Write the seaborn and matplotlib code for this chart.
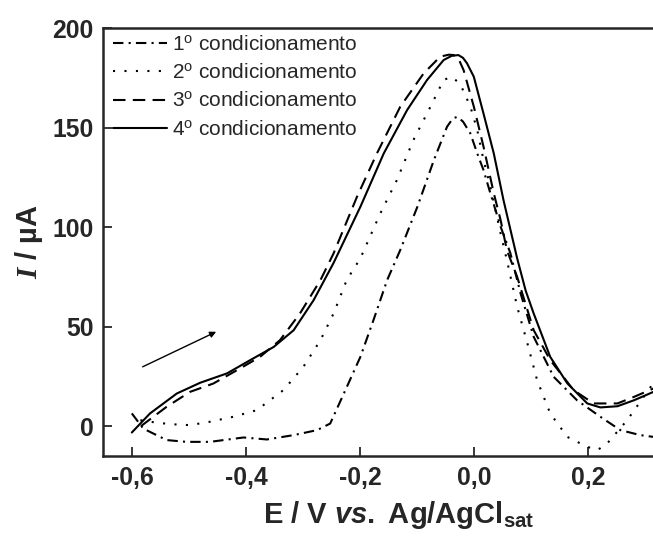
import matplotlib
matplotlib.use("Agg")
import matplotlib.pyplot as plt
import pandas as pd
import seaborn as sns

# 1st conditioning (dash-dot)
e1 = [-0.601, -0.581, -0.54, -0.505, -0.464, -0.405, -0.364, -0.317, -0.276, -0.253,
      -0.229, -0.2, -0.177, -0.153, -0.13, -0.1, -0.071, -0.048, -0.038, -0.03,
      -0.02, -0.007, 0.005, 0.016, 0.028, 0.046, 0.063, 0.081, 0.104, 0.139,
      0.18, 0.221, 0.256, 0.291, 0.314]
i1 = [6.4, -1.2, -7.0, -7.9, -7.9, -5.7, -6.7, -4.5, -2.0, 1.3,
      16.4, 34.8, 53.3, 73.4, 88.5, 110.2, 133.7, 150.4, 154.5, 155.4,
      153.0, 147.0, 137.0, 128.6, 117.0, 100.2, 87.0, 66.7, 44.9, 24.8,
      13.0, 4.7, -2.0, -4.5, -5.4]

# 2nd conditioning (dotted)
e2 = [-0.586, -0.569, -0.534, -0.499, -0.464, -0.423, -0.382, -0.335, -0.3, -0.27,
      -0.247, -0.224, -0.2, -0.165, -0.136, -0.107, -0.077, -0.054, -0.04, -0.025,
      -0.007, 0.005, 0.016, 0.028, 0.046, 0.057, 0.075, 0.093, 0.11, 0.133,
      0.163, 0.198, 0.216, 0.233, 0.268, 0.297, 0.314]
i2 = [3.0, 2.2, 1.0, 0.5, 2.2, 4.7, 8.0, 18.1, 29.8, 43.2,
      56.6, 73.4, 84.3, 106.9, 123.6, 143.7, 160.5, 173.9, 175.5, 172.0,
      160.5, 148.7, 133.7, 120.3, 96.8, 83.4, 60.0, 41.6, 23.1, 6.4,
      -5.4, -10.4, -12.0, -8.7, 3.0, 14.7, 21.6]

# 3rd conditioning (dashed)
e3 = [-0.585, -0.54, -0.499, -0.458, -0.411, -0.376, -0.341, -0.306, -0.27, -0.247,
      -0.206, -0.171, -0.13, -0.089, -0.06, -0.045, -0.036, -0.027, -0.019, -0.001,
      0.016, 0.034, 0.046, 0.057, 0.075, 0.104, 0.133, 0.174, 0.209, 0.251,
      0.28, 0.314]
i3 = [0.0, 9.7, 17.2, 21.4, 29.0, 34.8, 43.2, 56.6, 73.4, 86.8,
      115.2, 137.0, 160.5, 177.2, 185.6, 186.6, 186.4, 184.0, 178.9, 160.5,
      140.4, 117.0, 103.5, 88.4, 75.0, 48.2, 33.2, 18.1, 11.4, 11.4,
      14.7, 18.9]

# 4th conditioning (solid)
e4 = [-0.601, -0.569, -0.522, -0.481, -0.434, -0.393, -0.352, -0.317, -0.282, -0.247,
      -0.2, -0.159, -0.118, -0.083, -0.054, -0.04, -0.028, -0.02, -0.013, -0.001,
      0.016, 0.034, 0.051, 0.075, 0.09, 0.104, 0.133, 0.163, 0.198, 0.221,
      0.251, 0.28, 0.314]
i4 = [-3.2, 6.4, 16.4, 21.8, 26.5, 33.2, 39.8, 48.2, 63.3, 82.0,
      110.2, 137.0, 158.8, 173.9, 183.9, 186.0, 186.4, 185.0, 182.3, 175.5,
      157.0, 137.0, 113.6, 84.3, 68.0, 56.6, 34.8, 21.5, 11.4, 9.4,
      10.0, 13.0, 17.2]

labels = ["1$^{\\mathsf{o}}$ condicionamento", "2$^{\\mathsf{o}}$ condicionamento",
          "3$^{\\mathsf{o}}$ condicionamento", "4$^{\\mathsf{o}}$ condicionamento"]

sns.set_style("ticks")
plt.rcParams["font.family"] = ["Liberation Sans", "DejaVu Sans"]
plt.rcParams["mathtext.fontset"] = "custom"
plt.rcParams["mathtext.rm"] = "Liberation Sans:bold"
plt.rcParams["mathtext.it"] = "Liberation Sans:italic:bold"
plt.rcParams["mathtext.bf"] = "Liberation Serif:italic:bold"
plt.rcParams["mathtext.sf"] = "Liberation Sans"

fig = plt.figure(figsize=(6.53, 5.39), dpi=100)
ax = fig.add_axes([103.3 / 653, 83 / 539, 591.7 / 653, 428 / 539])

styles = [(0, (5, 2.5, 1, 2.5)), (0, (1, 4.5)), (0, (6, 3.5)), "-"]
for e, i, lab, ls in zip([e1, e2, e3, e4], [i1, i2, i3, i4], labels, styles):
    df = pd.DataFrame({"E": e, "I": i})
    sns.lineplot(data=df, x="E", y="I", sort=False, estimator=None, ax=ax,
                 color="black", lw=1.5, linestyle=ls, label=lab)

# scan direction arrow
ax.annotate("", xy=(-0.453, 47.4), xytext=(-0.582, 29.8),
            arrowprops=dict(arrowstyle="-|>", color="black", lw=1.0,
                            mutation_scale=9, shrinkA=0, shrinkB=0))

ax.set_xlim(-0.651, 0.387)
ax.set_ylim(-15, 200)
ax.set_xticks([-0.6, -0.4, -0.2, 0.0, 0.2])
ax.set_xticklabels(["-0,6", "-0,4", "-0,2", "0,0", "0,2"])
ax.set_yticks([0, 50, 100, 150, 200])
ax.tick_params(direction="in", length=6.5, width=1.3, labelsize=17.8, pad=7)
for lbl in ax.get_xticklabels() + ax.get_yticklabels():
    lbl.set_fontweight("bold")
for sp in ax.spines.values():
    sp.set_linewidth(1.8)
ax.spines["right"].set_visible(False)

ax.set_xlabel("E / V $\\mathit{vs.}$ Ag/AgCl$_{\\mathrm{sat}}$", fontsize=21,
              fontweight="bold", labelpad=7)
ax.set_ylabel("$\\mathbf{I}$ / µA", fontsize=21, fontweight="bold", labelpad=5)

ax.legend(loc="upper left", bbox_to_anchor=(0.016, 0.985), frameon=False,
          fontsize=15, handlelength=2.6, handletextpad=0.25,
          labelspacing=0.4, borderpad=0, borderaxespad=0)

fig.savefig("out.png", dpi=100)
